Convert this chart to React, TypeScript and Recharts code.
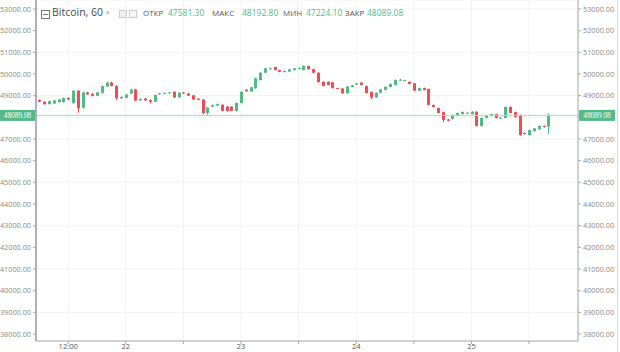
import React from 'react';
import { ComposedChart, Bar, XAxis, YAxis, CartesianGrid, ReferenceLine } from 'recharts';

// hourly BTC candles, first one is 21st 06:00
const opens = [
  48800, 48720, 48610, 48640, 48700, 48700, 48890, 48660, 49230, 48440,
  49150, 49090, 48990, 49130, 49420, 49600, 49440, 48880, 48900, 49100,
  49290, 48780, 48870, 48800, 48720, 49060, 49100, 49120, 49180, 48920,
  49140, 49100, 49010, 48860, 48820, 48200, 48490, 48540, 48580, 48500,
  48490, 48290, 48660, 49270, 49190, 49340, 49720, 50060, 50220, 50320,
  50180, 50090, 50110, 50180, 50230, 50180, 50370, 50220, 50060, 49640,
  49640, 49620, 49350, 49330, 49110, 49400, 49510, 49600, 49440, 49170,
  48920, 49130, 49260, 49400, 49490, 49710, 49690, 49640, 49570, 49230,
  49350, 49310, 48570, 48430, 48240, 47900, 47920, 48060, 48150, 48180,
  48150, 48260, 47600, 47970, 48060, 48150, 47950, 47970, 48480, 48240,
  48110, 47280, 47180, 47360, 47450, 47600, 47581.3,
];
const highs = [
  48830, 48740, 48770, 48800, 48840, 48920, 48930, 49260, 49250, 49180,
  49180, 49110, 49170, 49470, 49640, 49650, 49490, 48980, 49080, 49320,
  49320, 48870, 48890, 48820, 49050, 49130, 49150, 49170, 49200, 49160,
  49170, 49120, 49030, 48880, 48840, 48470, 48590, 48640, 48600, 48520,
  48510, 48690, 49210, 49300, 49410, 49830, 50090, 50290, 50300, 50340,
  50200, 50160, 50240, 50290, 50300, 50400, 50400, 50240, 50080, 49660,
  49660, 49640, 49370, 49350, 49460, 49500, 49590, 49620, 49460, 49190,
  49150, 49310, 49430, 49560, 49750, 49770, 49740, 49660, 49590, 49370,
  49370, 49330, 48590, 48450, 48260, 47920, 48130, 48220, 48270, 48230,
  48280, 48280, 47990, 48120, 48170, 48170, 48010, 48500, 48500, 48260,
  48130, 47300, 47430, 47510, 47620, 47620, 48192.8,
];
const lows = [
  48700, 48590, 48590, 48620, 48680, 48680, 48800, 48620, 48210, 48400,
  49040, 48970, 48970, 49090, 49400, 49430, 48800, 48850, 48880, 49080,
  48740, 48760, 48760, 48640, 48700, 49040, 49080, 49100, 48890, 48900,
  49080, 48980, 48800, 48790, 48150, 48120, 48470, 48520, 48270, 48270,
  48280, 48270, 48640, 49180, 49170, 49320, 49700, 50040, 50200, 50160,
  50080, 50070, 50100, 50160, 50210, 50160, 50200, 50040, 49600, 49420,
  49470, 49330, 49310, 49080, 49090, 49380, 49490, 49470, 49100, 48840,
  48900, 49110, 49240, 49380, 49470, 49690, 49670, 49520, 49210, 49210,
  49240, 48550, 48460, 48180, 47780, 47820, 47900, 48040, 48130, 48160,
  48130, 47580, 47580, 47950, 48040, 47950, 47930, 47950, 48180, 47990,
  47150, 47200, 47160, 47340, 47430, 47530, 47224.1,
];
const closes = [
  48720, 48610, 48750, 48780, 48820, 48890, 48820, 49230, 48420, 49150,
  49060, 48990, 49150, 49440, 49600, 49450, 48880, 48940, 49050, 49280,
  48770, 48850, 48780, 48720, 49030, 49110, 49130, 49150, 48920, 49140,
  49100, 49000, 48820, 48810, 48200, 48450, 48560, 48610, 48300, 48290,
  48300, 48660, 49180, 49200, 49390, 49800, 50060, 50260, 50260, 50180,
  50100, 50140, 50220, 50260, 50280, 50370, 50220, 50060, 49630, 49440,
  49490, 49350, 49330, 49110, 49420, 49480, 49570, 49490, 49120, 48920,
  49130, 49290, 49410, 49540, 49720, 49740, 49720, 49540, 49230, 49350,
  49260, 48570, 48480, 48200, 47880, 47840, 48110, 48200, 48250, 48210,
  48260, 47600, 47970, 48100, 48150, 47970, 47990, 48480, 48200, 48010,
  47180, 47240, 47410, 47490, 47600, 47550, 48089.08,
];

const xTicks = [6, 18, 30, 42, 54, 66, 78, 90, 102];
const xTickLabels = ['12:00', '22', '', '23', '', '24', '', '25', ''];
const priceTicks = [
  38000, 39000, 40000, 41000, 42000, 43000, 44000, 45000,
  46000, 47000, 48000, 49000, 50000, 51000, 52000, 53000,
];
const lastPrice = 48089.08;

const GREEN = '#53b987';
const RED = '#eb4d5c';
const AXIS_TEXT = '#8a8a8a';

const data = opens.map((o, i) => ({
  i,
  open: o,
  high: highs[i],
  low: lows[i],
  close: closes[i],
  range: [lows[i], highs[i]],
}));

const Candle = (props: any) => {
  const { x, y, width, height, payload } = props;
  const { open, close, high, low } = payload;
  const color = close >= open ? GREEN : RED;
  const span = high - low || 1;
  const py = (p: number) => y + ((high - p) / span) * height;
  const top = py(Math.max(open, close));
  const bot = py(Math.min(open, close));
  const cx = Math.round(x + width / 2) + 0.5;
  return (
    <g>
      <line x1={cx} x2={cx} y1={y} y2={y + height} stroke={color} strokeWidth={1} />
      <rect x={cx - 1.5} y={top} width={3} height={Math.max(1, bot - top)} fill={color} />
    </g>
  );
};

const PriceTag = (props: any) => {
  const vb = props.viewBox || {};
  const { x = 36, y = 0, width = 542 } = vb;
  const txt = lastPrice.toFixed(2);
  return (
    <g>
      <rect x={x - 36} y={y - 5.5} width={35} height={11} fill={GREEN} />
      <text x={x - 18.5} y={y + 2.5} textAnchor="middle" fontSize={7.3} fill="#fff">{txt}</text>
      <rect x={x + width + 1} y={y - 5.5} width={36} height={11} fill={GREEN} />
      <text x={x + width + 19} y={y + 2.5} textAnchor="middle" fontSize={7.3} fill="#fff">{txt}</text>
    </g>
  );
};

// the last-price tag covers the tick label next to it
const priceLabel = (v: number) => (Math.abs(v - lastPrice) < 400 ? '' : v.toFixed(2));

const Header = () => {
  const lbl: React.CSSProperties = { position: 'absolute', top: 9, fontSize: 8, color: '#555' };
  const val: React.CSSProperties = { position: 'absolute', top: 9, fontSize: 8.5, color: GREEN };
  return (
    <div style={{ position: 'absolute', left: 0, top: 0, fontFamily: '"Open Sans", sans-serif', whiteSpace: 'nowrap', lineHeight: 1 }}>
      <svg style={{ position: 'absolute', left: 41, top: 10 }} width={9} height={9}>
        <rect x={0.5} y={0.5} width={8} height={8} fill="none" stroke="#777" />
        <line x1={2} x2={7} y1={4.5} y2={4.5} stroke="#777" />
      </svg>
      <span style={{ position: 'absolute', left: 52, top: 7, fontSize: 10.5, color: '#4a4a4a' }}>Bitcoin, 60</span>
      <span style={{ position: 'absolute', left: 106, top: 9, fontSize: 7, color: '#bbb' }}>▾</span>
      <svg style={{ position: 'absolute', left: 119, top: 10 }} width={20} height={9}>
        <rect x={0.5} y={0.5} width={7} height={7} fill="#eee" stroke="#ccc" />
        <rect x={10.5} y={0.5} width={7} height={7} fill="#f4f4f4" stroke="#ccc" />
      </svg>
      <span style={{ ...lbl, left: 143 }}>ОТКР</span>
      <span style={{ ...val, left: 168 }}>47581.30</span>
      <span style={{ ...lbl, left: 212 }}>МАКС</span>
      <span style={{ ...val, left: 242 }}>48192.80</span>
      <span style={{ ...lbl, left: 283 }}>МИН</span>
      <span style={{ ...val, left: 306 }}>47224.10</span>
      <span style={{ ...lbl, left: 345 }}>ЗАКР</span>
      <span style={{ ...val, left: 367 }}>48089.08</span>
    </div>
  );
};

export default function App() {
  const yDomain = [37677, 53415];
  const tickStyle = { fontSize: 7.3, fill: AXIS_TEXT, fontFamily: '"Open Sans", sans-serif' };
  return (
    <div style={{ position: 'absolute', left: 0, top: 0, width: 620, height: 352, background: '#fff', overflow: 'hidden' }}>
      <ComposedChart width={620} height={352} data={data} margin={{ top: 0, right: 0, bottom: 0, left: 0 }}>
        <CartesianGrid stroke="#f0f2f4" yAxisId="right" />
        <XAxis
          type="number"
          dataKey="i"
          domain={[-0.7, 112.2]}
          allowDataOverflow
          ticks={xTicks}
          tickFormatter={(v: number) => xTickLabels[xTicks.indexOf(v)] ?? ''}
          height={11}
          tickSize={3}
          tickMargin={0}
          stroke="#a8a8a8"
          tick={{ fontSize: 7.5, fill: '#555', fontFamily: '"Open Sans", sans-serif' }}
        />
        <YAxis
          yAxisId="left"
          orientation="left"
          width={36}
          domain={yDomain}
          allowDataOverflow
          ticks={priceTicks}
          tickFormatter={priceLabel}
          tickSize={3}
          stroke="#a8a8a8"
          axisLine={{ stroke: '#b0b0b0', strokeWidth: 2 }}
          tick={tickStyle}
        />
        <YAxis
          yAxisId="right"
          orientation="right"
          width={42}
          domain={yDomain}
          allowDataOverflow
          ticks={priceTicks}
          tickFormatter={priceLabel}
          tickSize={3}
          stroke="#a8a8a8"
          tick={tickStyle}
        />
        <ReferenceLine yAxisId="right" y={lastPrice} stroke="#a8dcc5" strokeWidth={1} label={<PriceTag />} />
        <Bar yAxisId="right" dataKey="range" barSize={3} shape={<Candle />} isAnimationActive={false} />
      </ComposedChart>
      <Header />
      <div style={{ position: 'absolute', left: 617, top: 0, width: 1, height: 352, background: '#d8d8d8' }} />
    </div>
  );
}
